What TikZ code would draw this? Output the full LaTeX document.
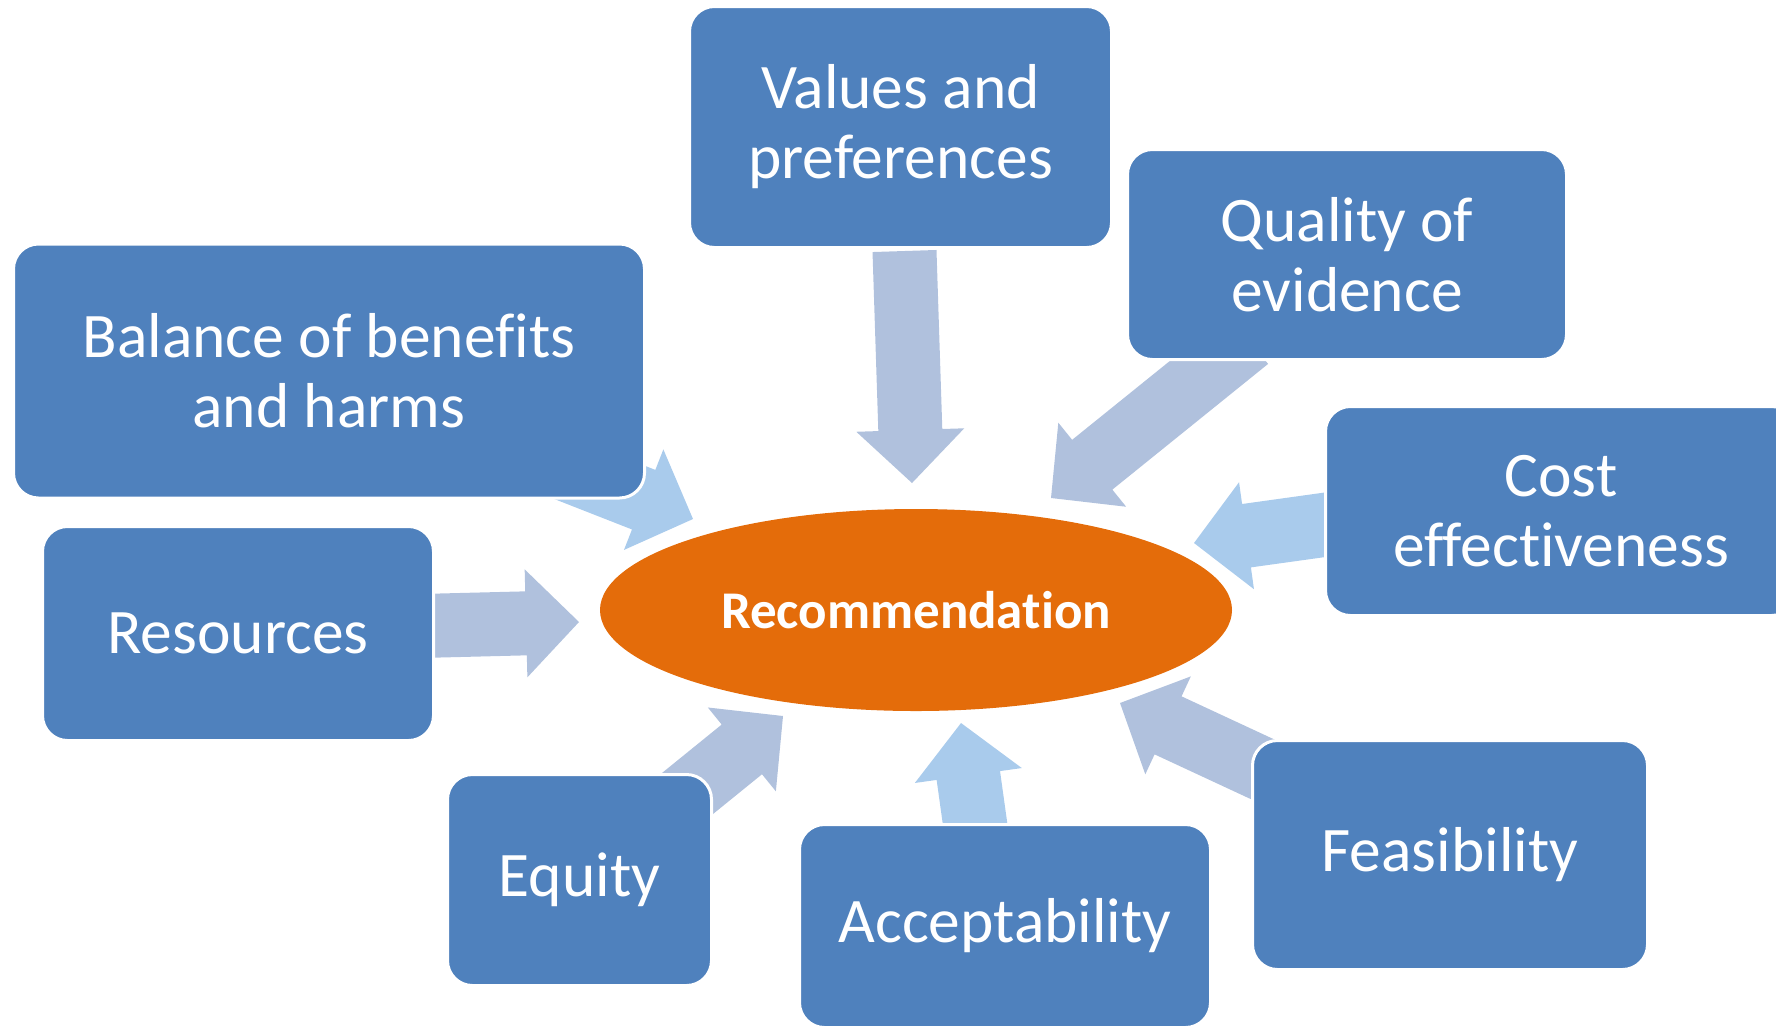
\documentclass[tikz,border=0pt]{standalone}
\usepackage{fontspec}
\setmainfont{Carlito}[Ligatures={NoCommon},RawFeature={-liga;-clig}]
\usetikzlibrary{calc,shapes.geometric}

\definecolor{boxblue}{HTML}{4F81BD}
\definecolor{arrowgray}{HTML}{B0C1DD}
\definecolor{arrowsky}{HTML}{A9CBEC}
\definecolor{recorange}{HTML}{E46C0A}

% Block arrow from a tail coordinate to a tip coordinate:
% shaft 64px wide, head 108px wide and 53px long (1px = 0.75pt).
\newcommand\fatarrow[3]{%
  \path (#2) coordinate (fa-s) (#3) coordinate (fa-t);
  \coordinate (fa-b) at ($(fa-t)!39.75pt!(fa-s)$);
  \fill[#1] ($(fa-s)!24pt!90:(fa-t)$) -- ($(fa-b)!24pt!90:(fa-t)$)
    -- ($(fa-b)!40.5pt!90:(fa-t)$) -- (fa-t)
    -- ($(fa-b)!40.5pt!-90:(fa-t)$) -- ($(fa-b)!24pt!-90:(fa-t)$)
    -- ($(fa-s)!24pt!-90:(fa-t)$) -- cycle;
}

\begin{document}
\begin{tikzpicture}[x=0.75pt,y=-0.75pt,
  factor/.style 2 args={rectangle, rounded corners=18.75pt, fill=boxblue,
    draw=white, line width=2.25pt, text=white, align=center, inner sep=0pt,
    minimum width=(#1+3)*0.75pt, minimum height=(#2+3)*0.75pt,
    font=\fontsize{47.6pt}{52.5pt}\selectfont},
  hub/.style={ellipse, fill=recorange, inner sep=0pt, text=white,
    minimum width=632*0.75pt, minimum height=202*0.75pt,
    font=\fontsize{39.75pt}{44pt}\selectfont\bfseries}]
\useasboundingbox (0,0) rectangle (1776,1026);
\clip (0,0) rectangle (1776,1026);

% tails and tips of the block arrows
\coordinate (values-tail) at (904.5,251);   \coordinate (values-tip) at (912,483);
\coordinate (quality-tail) at (1248,339);   \coordinate (quality-tip) at (1051,498);
\coordinate (cost-tail) at (1395,515);      \coordinate (cost-tip) at (1194,543);
\coordinate (feas-tail) at (1305,789);      \coordinate (feas-tip) at (1120,703);
\coordinate (accept-tail) at (985,895);     \coordinate (accept-tip) at (961,723);
\coordinate (equity-tail) at (624,845);     \coordinate (equity-tip) at (783,716);
\coordinate (res-tail) at (380,627);        \coordinate (res-tip) at (579,622);
\coordinate (balance-tail) at (522,452);    \coordinate (balance-tip) at (693,519);

\fatarrow{arrowgray}{values-tail}{values-tip}
\fatarrow{arrowgray}{quality-tail}{quality-tip}
\fatarrow{arrowsky}{cost-tail}{cost-tip}
\fatarrow{arrowgray}{feas-tail}{feas-tip}
\fatarrow{arrowsky}{accept-tail}{accept-tip}
\fatarrow{arrowgray}{equity-tail}{equity-tip}
\fatarrow{arrowgray}{res-tail}{res-tip}
\fatarrow{arrowsky}{balance-tail}{balance-tip}

% factor boxes
\node[factor={419}{238}] (values) at (900.5,127) {Values and\\preferences};
\node[factor={436}{207}] (quality) at (1347,254.5) {Quality of\\evidence};
\node[factor={628}{251}] (balance) at (329,371) {Balance of benefits\\and harms};
\node[factor={468}{206}] (cost) at (1561,511) {Cost\\effectiveness};
\node[factor={388}{211}] (resources) at (238,633.5) {Resources};
\node[factor={261}{208}] (equity) at (579.5,880) {Equity};
\node[factor={408}{200}] (accept) at (1005,926) {Acceptability};
\node[factor={392}{226}] (feas) at (1450,855) {Feasibility};

% central recommendation
\node[hub] (rec) at (916,610) {Recommendation};
\end{tikzpicture}
\end{document}
